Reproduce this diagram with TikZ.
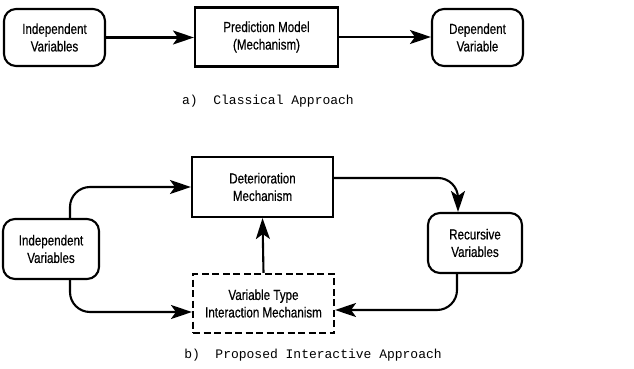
\documentclass[tikz,border=0pt]{standalone}
\usepackage{fontspec}
\setmainfont{Liberation Sans}
\setmonofont{Liberation Mono}
\newfontfamily\boxfont[FakeStretch=0.8,FakeBold=0.5]{Liberation Sans}
\usetikzlibrary{arrows.meta}
\tikzset{
  box/.style={draw, line width=2.1pt, align=center, inner sep=0pt,
    font=\boxfont\fontsize{14.5}{17.5}\selectfont},
  rbox/.style={box, rounded corners=12pt},
  dbox/.style={box, dash pattern=on 7pt off 3.5pt},
  link/.style={line width=2.1pt, -{Stealth[length=21pt,width=14pt,inset=5pt]}},
  caption/.style={font=\fontsize{13}{15}\selectfont\ttfamily},
}
\begin{document}
\begin{tikzpicture}[x=1pt,y=-1pt]
\useasboundingbox (0,0) rectangle (634,369);

% a) classical approach
\node[rbox, minimum width=101pt, minimum height=57pt] (iva) at (54.5,37.5) {Independent\\Variables};
\node[box, minimum width=143pt, minimum height=59pt] (pm) at (266.5,37) {Prediction Model\\(Mechanism)};
\node[rbox, minimum width=91pt, minimum height=57pt] (dv) at (477.5,37.5) {Dependent\\Variable};
\draw[link] (iva.east) -- (iva.east -| pm.west);
\draw[link] (pm.east) -- (pm.east -| dv.west);
\node[caption] (capa) at (268,101) {a)\ \ Classical Approach};

% b) proposed interactive approach
\node[box, minimum width=141pt, minimum height=60pt] (dm) at (262.5,187) {Deterioration\\Mechanism};
\node[rbox, minimum width=96pt, minimum height=60pt] (ivb) at (51,249) {Independent\\Variables};
\node[rbox, minimum width=94pt, minimum height=60pt] (rv) at (475,243) {Recursive\\Variables};
\node[dbox, minimum width=141pt, minimum height=59pt] (vt) at (263.5,303.5) {Variable Type\\Interaction Mechanism};

\draw[link, rounded corners=20pt] ([xshift=19pt]ivb.north) |- (dm.west);
\draw[link, rounded corners=20pt] ([xshift=19pt]ivb.south) |- ([yshift=-8.5pt]vt.west);
\draw[link, rounded corners=20pt] ([yshift=9pt]dm.east) -| ([xshift=-17pt]rv.north);
\draw[link, rounded corners=20pt] ([xshift=-18pt]rv.south) |- ([yshift=-6.5pt]vt.east);
\draw[link] (vt.north) -- (dm.south);
\node[caption] (capb) at (313,355) {b)\ \ Proposed Interactive Approach};
\end{tikzpicture}
\end{document}
